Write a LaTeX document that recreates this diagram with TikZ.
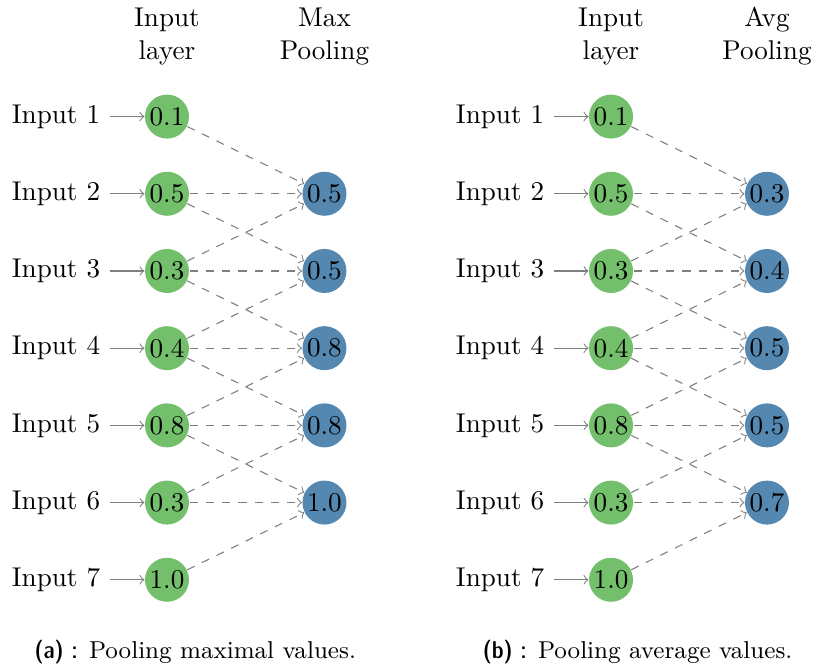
\documentclass[tikz,border=0pt]{standalone}
\usepackage{xcolor}
\usetikzlibrary{arrows,positioning}
\definecolor{ingreen}{RGB}{116,191,108}
\definecolor{poolblue}{RGB}{84,136,176}
\tikzset{%
	innode/.style   = {circle, fill=ingreen, minimum size=0.57cm, inner sep=0pt}, % Input neuron
	poolnode/.style = {circle, fill=poolblue, minimum size=0.57cm, inner sep=0pt}, % Pooling neuron
	header/.style   = {align=center}, % Column title
	caption/.style  = {font=\small}, % Sub-caption
	feed/.style     = {gray,->}, % Input arrow
	link/.style     = {gray,dashed,->}, % Pooling connection
}
\newcommand{\subtag}[1]{{\sffamily\fontseries{sbc}\selectfont #1}}

\begin{document}
\begin{tikzpicture}[node distance=0.45cm,auto,>=to]
	\useasboundingbox (0,0) rectangle (10.544,-8.601);

	% (a) max pooling
	\node [innode] (a1) at (2.163,-1.51) {0.1};
	\node [innode] (a2) at (2.163,-2.51) {0.5};
	\node [innode] (a3) at (2.163,-3.51) {0.3};
	\node [innode] (a4) at (2.163,-4.51) {0.4};
	\node [innode] (a5) at (2.163,-5.51) {0.8};
	\node [innode] (a6) at (2.163,-6.51) {0.3};
	\node [innode] (a7) at (2.163,-7.51) {1.0};
	\node [poolnode] (am1) at (4.203,-2.51) {0.5};
	\node [poolnode] (am2) at (4.203,-3.51) {0.5};
	\node [poolnode] (am3) at (4.203,-4.51) {0.8};
	\node [poolnode] (am4) at (4.203,-5.51) {0.8};
	\node [poolnode] (am5) at (4.203,-6.51) {1.0};
	\node [header] (ahin) at (2.163,-0.47) {Input\\layer};
	\node [header] (ahout) at (4.203,-0.47) {Max\\Pooling};
	\node [caption] (acap) at (2.53,-8.44) {\subtag{(a) :} Pooling maximal values.};

	% (b) average pooling
	\node [innode] (b1) at (7.915,-1.51) {0.1};
	\node [innode] (b2) at (7.915,-2.51) {0.5};
	\node [innode] (b3) at (7.915,-3.51) {0.3};
	\node [innode] (b4) at (7.915,-4.51) {0.4};
	\node [innode] (b5) at (7.915,-5.51) {0.8};
	\node [innode] (b6) at (7.915,-6.51) {0.3};
	\node [innode] (b7) at (7.915,-7.51) {1.0};
	\node [poolnode] (bm1) at (9.935,-2.51) {0.3};
	\node [poolnode] (bm2) at (9.935,-3.51) {0.4};
	\node [poolnode] (bm3) at (9.935,-4.51) {0.5};
	\node [poolnode] (bm4) at (9.935,-5.51) {0.5};
	\node [poolnode] (bm5) at (9.935,-6.51) {0.7};
	\node [header] (bhin) at (7.915,-0.47) {Input\\layer};
	\node [header] (bhout) at (9.935,-0.47) {Avg\\Pooling};
	\node [caption] (bcap) at (8.26,-8.44) {\subtag{(b) :} Pooling average values.};

	\foreach \p in {a,b}{
		\foreach \i in {1,...,7}{
			\node (\p l\i) [left=of \p\i] {Input \i};
			\draw[feed] (\p l\i) -- (\p\i);
		}
		\foreach \j [evaluate=\j as \k using int(\j+1), evaluate=\j as \m using int(\j+2)] in {1,...,5}{
			\draw[link] (\p\j) -- (\p m\j);
			\draw[link] (\p\k) -- (\p m\j);
			\draw[link] (\p\m) -- (\p m\j);
		}
	}

\end{tikzpicture}
\end{document}
